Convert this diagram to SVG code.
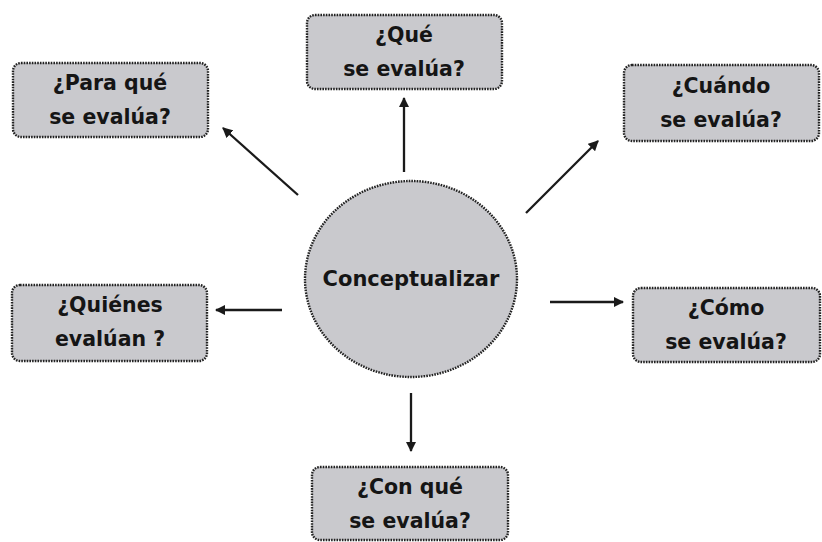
<svg xmlns="http://www.w3.org/2000/svg" width="822" height="542" viewBox="0 0 822 542">
<style>
.box{fill:#c9c9cd;stroke:#222;stroke-width:2.4;stroke-dasharray:1.6 1.1}
.t{font-family:"DejaVu Sans",sans-serif;font-weight:bold;font-size:20.5px;fill:#151515;text-anchor:middle}
.c{stroke:#1a1a1a;stroke-width:2.3;fill:none;marker-end:url(#ah)}
</style>
<defs>
<marker id="ah" viewBox="0 0 10 10" refX="9" refY="5" markerWidth="4.5" markerHeight="4.5" orient="auto" markerUnits="strokeWidth">
<path d="M0,0 L10,5 L0,10 z" fill="#1a1a1a"/>
</marker>
</defs>
<rect width="822" height="542" fill="#fff"/>
<g id="connectors">
<line class="c" x1="298" y1="195" x2="223" y2="128"/>
<line class="c" x1="404" y1="172" x2="404" y2="98"/>
<line class="c" x1="526" y1="213" x2="598" y2="141"/>
<line class="c" x1="282" y1="310" x2="216" y2="310"/>
<line class="c" x1="550" y1="302" x2="623" y2="302"/>
<line class="c" x1="411" y1="393" x2="411" y2="451"/>
</g>
<g id="center">
<ellipse class="box" cx="411" cy="279" rx="106" ry="98"/>
<text class="t" x="411" y="286" style="font-size:21px">Conceptualizar</text>
</g>
<g id="para">
<rect class="box" x="13" y="63" width="195" height="74" rx="8"/>
<text class="t" x="110" y="90">¿Para qué</text>
<text class="t" x="110" y="124">se evalúa?</text>
</g>
<g id="que">
<rect class="box" x="307" y="15" width="195" height="74" rx="8"/>
<text class="t" x="404" y="42">¿Qué</text>
<text class="t" x="404" y="76">se evalúa?</text>
</g>
<g id="cuando">
<rect class="box" x="624" y="65" width="195" height="76" rx="8"/>
<text class="t" x="721" y="93">¿Cuándo</text>
<text class="t" x="721" y="127">se evalúa?</text>
</g>
<g id="quienes">
<rect class="box" x="12" y="285" width="195" height="76" rx="8"/>
<text class="t" x="110" y="312">¿Quiénes</text>
<text class="t" x="110" y="346">evalúan ?</text>
</g>
<g id="como">
<rect class="box" x="633" y="288" width="187" height="74" rx="8"/>
<text class="t" x="726" y="315">¿Cómo</text>
<text class="t" x="726" y="349">se evalúa?</text>
</g>
<g id="conque">
<rect class="box" x="312" y="467" width="196" height="73" rx="8"/>
<text class="t" x="410" y="494">¿Con qué</text>
<text class="t" x="410" y="528">se evalúa?</text>
</g>
</svg>
